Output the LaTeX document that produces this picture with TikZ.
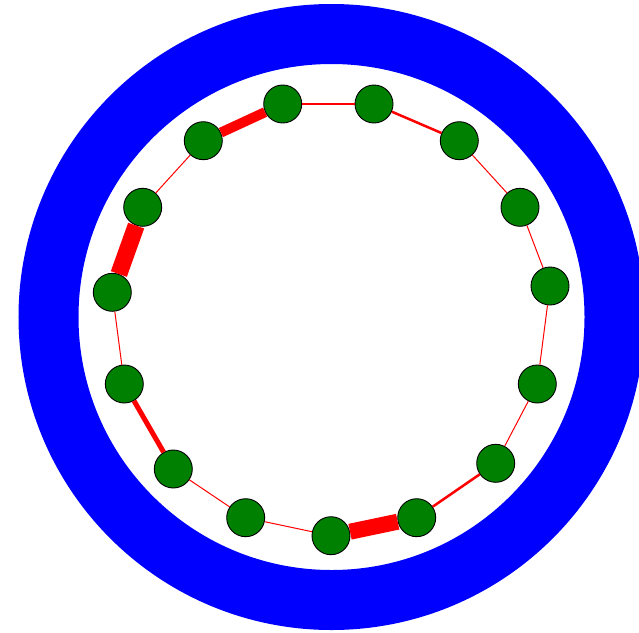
\documentclass[tikz,border=0pt]{standalone}
\begin{document}
\begin{tikzpicture}[x=1pt,y=-1pt,
  vtx/.style={circle,draw=black,line width=0.9pt,fill={rgb,255:red,0;green,128;blue,0},minimum size=38pt,inner sep=0pt},
  edg/.style={draw={rgb,255:red,255;green,0;blue,0}}]
\useasboundingbox (0,0) rectangle (639,632);
\clip (0,0) rectangle (639,632);
\draw[blue,line width=60pt] (331.5,317) circle[radius=283];
\node[vtx] (n1) at (282.7,104) {};
\node[vtx] (n2) at (374,104) {};
\node[vtx] (n3) at (459.3,140.7) {};
\node[vtx] (n4) at (520,207.3) {};
\node[vtx] (n5) at (550,286) {};
\node[vtx] (n6) at (537.3,384) {};
\node[vtx] (n7) at (495.7,463.3) {};
\node[vtx] (n8) at (416.7,517.7) {};
\node[vtx] (n9) at (331,535.7) {};
\node[vtx] (n10) at (245.7,517.7) {};
\node[vtx] (n11) at (173.3,469) {};
\node[vtx] (n12) at (124.3,384) {};
\node[vtx] (n13) at (112.3,292.3) {};
\node[vtx] (n14) at (142.7,207.3) {};
\node[vtx] (n15) at (203.3,140.7) {};
\path[edg,line width=2.5pt] (n1) -- (n2);
\path[edg,line width=2.5pt] (n2) -- (n3);
\path[edg,line width=1pt] (n3) -- (n4);
\path[edg,line width=1pt] (n4) -- (n5);
\path[edg,line width=1pt] (n5) -- (n6);
\path[edg,line width=1pt] (n6) -- (n7);
\path[edg,line width=2.5pt] (n7) -- (n8);
\path[edg,line width=16pt] (n8) -- (n9);
\path[edg,line width=1pt] (n9) -- (n10);
\path[edg,line width=1pt] (n10) -- (n11);
\path[edg,line width=5pt] (n11) -- (n12);
\path[edg,line width=1pt] (n12) -- (n13);
\path[edg,line width=17pt] (n13) -- (n14);
\path[edg,line width=1pt] (n14) -- (n15);
\path[edg,line width=10pt] (n15) -- (n1);
\end{tikzpicture}
\end{document}
